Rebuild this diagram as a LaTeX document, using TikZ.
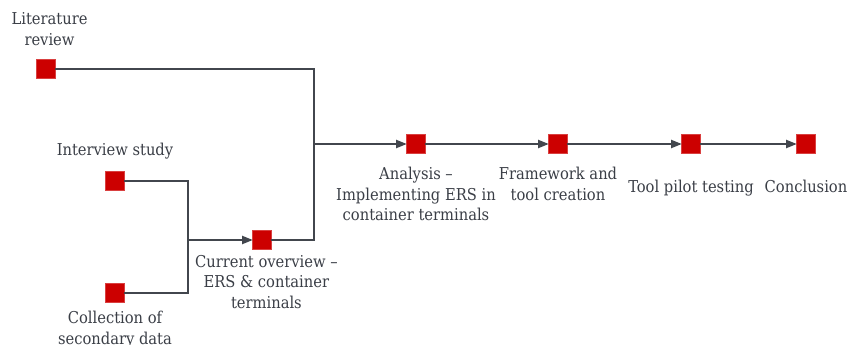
\documentclass[tikz,border=0pt]{standalone}
\usepackage{fontspec}
\setmainfont{DejaVu Serif Condensed}
\usetikzlibrary{arrows.meta, positioning}
\definecolor{stepred}{RGB}{204,0,0}
\definecolor{linegray}{RGB}{66,70,77}
\definecolor{textgray}{RGB}{58,62,70}
\tikzset{
  sq/.style = {rectangle, fill=stepred, draw=stepred!75!white, line width=0.4pt,
    minimum size=0.37cm, inner sep=0pt, outer sep=0pt},
  lb/.style = {text=textgray, font=\fontsize{9.3}{11.8}\selectfont,
    align=center, inner sep=1pt},
  ln/.style = {draw=linegray, line width=0.9pt},
  seta/.style = {-{Triangle[length=6pt, width=4.6pt]}, line width=0.9pt, draw=linegray}
}

\begin{document}
\begin{tikzpicture}[x=0.02cm, y=-0.02cm]
  \useasboundingbox (0,0) rectangle (850,345);

  % steps
  \node [sq] (lit) at (46,69) {};
  \node [sq] (int) at (115,181) {};
  \node [sq] (sec) at (115,293) {};
  \node [sq] (cur) at (262,240) {};
  \node [sq] (ana) at (416,144) {};
  \node [sq] (fra) at (558,144) {};
  \node [sq] (pil) at (691,144) {};
  \node [sq] (con) at (806,144) {};
  \coordinate (j1) at (188,240);
  \coordinate (j2) at (314,144);

  % labels
  \node [lb, above=7pt of lit, xshift=2pt] {Literature\\review};
  \node [lb, above=6pt of int] {Interview study};
  \node [lb, below=4pt of sec] {Collection of\\secondary data};
  \node [lb, below=2pt of cur, xshift=2.5pt] {Current overview --\\ERS \& container\\terminals};
  \node [lb, below=6.6pt of ana] {Analysis --\\Implementing ERS in\\container terminals};
  \node [lb, below=6.6pt of fra] {Framework and\\tool creation};
  \node [lb, below=14pt of pil] {Tool pilot testing};
  \node [lb, below=14pt of con] {Conclusion};

  % connectors
  \draw [ln] (lit.east) -| (j2) |- (cur.east);
  \draw [ln] (int.east) -| (j1) |- (sec.east);
  \draw [seta] (j1) -- (cur.west);
  \draw [seta] (j2) -- (ana.west);
  \draw [seta] (ana.east) -- (fra.west);
  \draw [seta] (fra.east) -- (pil.west);
  \draw [seta] (pil.east) -- (con.west);
\end{tikzpicture}
\end{document}
